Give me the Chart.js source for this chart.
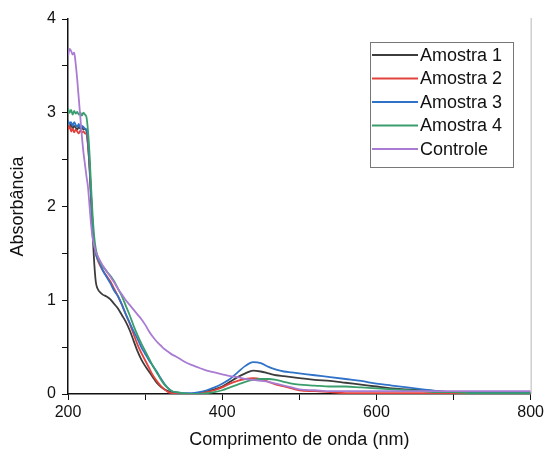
<!DOCTYPE html>
<html>
<head>
<meta charset="utf-8">
<script src="https://cdn.jsdelivr.net/npm/chart.js@4"></script>
<style>
  html, body { margin: 0; padding: 0; background: #fff; }
  #wrap { width: 547px; height: 454px; }
</style>
</head>
<body>
<div id="wrap"><canvas id="myChart" width="547" height="454"></canvas></div>
<script>
// Comprimentos de onda (nm)
const wavelengths = [200,202,204,206,208,210,212,214,216,218,220,222,224,226,228,230,232,234,236,238,
  241,245,250,255,260,265,270,275,280,285,290,295,300,305,310,315,320,325,330,335,340,
  350,360,370,380,390,400,410,420,430,440,450,460,470,480,490,500,
  520,540,560,580,600,620,640,660,680,700,720,740,760,780,800];

const amostra1 = [2.86,2.84,2.88,2.83,2.86,2.84,2.82,2.85,2.83,2.84,2.82,2.83,2.80,2.65,2.40,2.05,1.70,1.40,1.20,1.13,
  1.09,1.06,1.04,1.01,0.96,0.91,0.84,0.77,0.68,0.57,0.46,0.37,0.30,0.24,0.18,0.12,0.08,0.05,0.03,0.02,0.01,
  0.00,0.00,0.01,0.03,0.05,0.08,0.13,0.18,0.22,0.25,0.24,0.22,0.20,0.19,0.18,0.17,
  0.15,0.14,0.12,0.10,0.08,0.06,0.05,0.04,0.03,0.02,0.02,0.01,0.01,0.01,0.01];

const amostra2 = [2.82,2.86,2.80,2.83,2.79,2.82,2.80,2.78,2.81,2.79,2.80,2.78,2.77,2.65,2.42,2.10,1.80,1.60,1.50,1.44,
  1.38,1.32,1.26,1.20,1.12,1.04,0.95,0.85,0.75,0.64,0.53,0.44,0.36,0.28,0.20,0.14,0.09,0.05,0.02,0.01,0.00,
  0.00,0.00,0.01,0.02,0.04,0.07,0.11,0.14,0.16,0.17,0.16,0.13,0.10,0.08,0.06,0.04,
  0.03,0.02,0.01,0.01,0.01,0.01,0.01,0.01,0.01,0.01,0.01,0.01,0.01,0.01,0.01];

const amostra3 = [2.92,2.88,2.90,2.86,2.90,2.87,2.85,2.88,2.84,2.86,2.85,2.83,2.82,2.70,2.45,2.10,1.80,1.60,1.50,1.45,
  1.40,1.32,1.25,1.18,1.10,1.04,0.95,0.85,0.76,0.67,0.59,0.50,0.43,0.36,0.30,0.24,0.17,0.11,0.06,0.03,0.02,
  0.01,0.01,0.02,0.04,0.07,0.11,0.16,0.23,0.30,0.34,0.33,0.29,0.26,0.24,0.23,0.22,
  0.20,0.18,0.16,0.14,0.11,0.09,0.07,0.05,0.03,0.02,0.02,0.02,0.02,0.02,0.02];

const amostra4 = [3.05,3.00,3.03,2.98,3.02,2.99,3.01,2.98,3.00,2.97,3.00,2.98,2.95,2.80,2.55,2.20,1.90,1.68,1.55,1.48,
  1.42,1.36,1.31,1.26,1.20,1.12,1.04,0.94,0.84,0.73,0.63,0.54,0.46,0.38,0.30,0.23,0.16,0.10,0.06,0.03,0.02,
  0.01,0.00,0.00,0.01,0.02,0.04,0.07,0.10,0.13,0.15,0.16,0.16,0.15,0.13,0.11,0.10,
  0.09,0.08,0.08,0.07,0.06,0.05,0.04,0.03,0.02,0.02,0.01,0.01,0.01,0.01,0.01];

const controle = [3.60,3.68,3.66,3.62,3.64,3.52,3.35,3.15,2.95,2.75,2.58,2.45,2.32,2.20,2.00,1.80,1.66,1.58,1.52,1.48,
  1.43,1.37,1.31,1.25,1.19,1.12,1.06,1.00,0.95,0.90,0.85,0.80,0.74,0.67,0.61,0.56,0.52,0.48,0.45,0.42,0.40,
  0.35,0.31,0.28,0.25,0.23,0.21,0.19,0.18,0.16,0.15,0.14,0.13,0.11,0.09,0.07,0.05,
  0.04,0.03,0.03,0.03,0.03,0.03,0.03,0.03,0.03,0.03,0.03,0.03,0.03,0.03,0.03];

const seriesLabels = ["Amostra 1", "Amostra 2", "Amostra 3", "Amostra 4", "Controle"];
const seriesValues = [amostra1, amostra2, amostra3, amostra4, controle];
const seriesColors = ["#3c3c3c", "#e2423d", "#2f72c8", "#3a9e6c", "#a97bd2"];

const xTicks = [200, 400, 600, 800];
const yTicks = [0, 1, 2, 3, 4];

const fontFamily = "'Liberation Sans', Arial, sans-serif";

// Legenda e borda direita desenhadas à mão
const frame = {
  id: "frame",
  afterDraw(chart) {
    const ctx = chart.ctx;
    const a = chart.chartArea;
    ctx.save();
    ctx.strokeStyle = "#b8b8b8";
    ctx.lineWidth = 1;
    ctx.beginPath();
    ctx.moveTo(a.right + 0.5, a.top - 1);
    ctx.lineTo(a.right + 0.5, a.bottom);
    ctx.stroke();

    const bx = 370, by = 42, bw = 143, bh = 125;
    ctx.strokeStyle = "#777";
    ctx.strokeRect(bx + 0.5, by + 0.5, bw, bh);
    ctx.font = "18px " + fontFamily;
    ctx.textBaseline = "middle";
    ctx.fillStyle = "#111";
    chart.data.datasets.forEach((ds, i) => {
      const yy = by + 13 + i * 23.5;
      ctx.strokeStyle = ds.borderColor;
      ctx.lineWidth = 1.8;
      ctx.beginPath();
      ctx.moveTo(bx + 2, yy);
      ctx.lineTo(bx + 48, yy);
      ctx.stroke();
      ctx.fillText(ds.label, bx + 50, yy + 1);
    });
    ctx.restore();
  }
};

const datasets = seriesLabels.map((label, i) => ({
  label: label,
  data: wavelengths.map((w, j) => ({ x: w, y: seriesValues[i][j] })),
  borderColor: seriesColors[i],
  borderWidth: 1.8,
  pointRadius: 0,
  cubicInterpolationMode: "monotone",
  order: 5 - i
}));

new Chart(document.getElementById("myChart"), {
  type: "line",
  data: { datasets: datasets },
  options: {
    responsive: false,
    animation: false,
    layout: { padding: { left: 0, top: 19, right: 13, bottom: 0 } },
    plugins: { legend: { display: false }, tooltip: { enabled: false } },
    scales: {
      x: {
        type: "linear",
        min: 200,
        max: 800,
        afterFit(scale) { scale.height = 60; },
        ticks: {
          stepSize: 100,
          color: "#111",
          padding: 3,
          maxRotation: 0,
          font: { family: fontFamily, size: 16 },
          callback: v => xTicks.includes(v) ? String(v) : ""
        },
        grid: { drawOnChartArea: false, drawTicks: true, tickLength: 6, tickColor: "#111" },
        border: { color: "#111", width: 1.5 },
        title: {
          display: true,
          text: "Comprimento de onda (nm)",
          color: "#111",
          font: { family: fontFamily, size: 18 },
          padding: { top: 0, bottom: 3 }
        }
      },
      y: {
        min: 0,
        max: 4,
        afterFit(scale) { scale.width = 68; },
        ticks: {
          stepSize: 0.5,
          color: "#111",
          padding: 6,
          font: { family: fontFamily, size: 16 },
          callback: v => yTicks.includes(v) ? String(v) : ""
        },
        grid: { drawOnChartArea: false, drawTicks: true, tickLength: 6, tickColor: "#111" },
        border: { color: "#111", width: 1.5 },
        title: {
          display: true,
          text: "Absorbância",
          color: "#111",
          font: { family: fontFamily, size: 18 },
          padding: { top: 7, bottom: 0 }
        }
      }
    }
  },
  plugins: [frame]
});
</script>
</body>
</html>
